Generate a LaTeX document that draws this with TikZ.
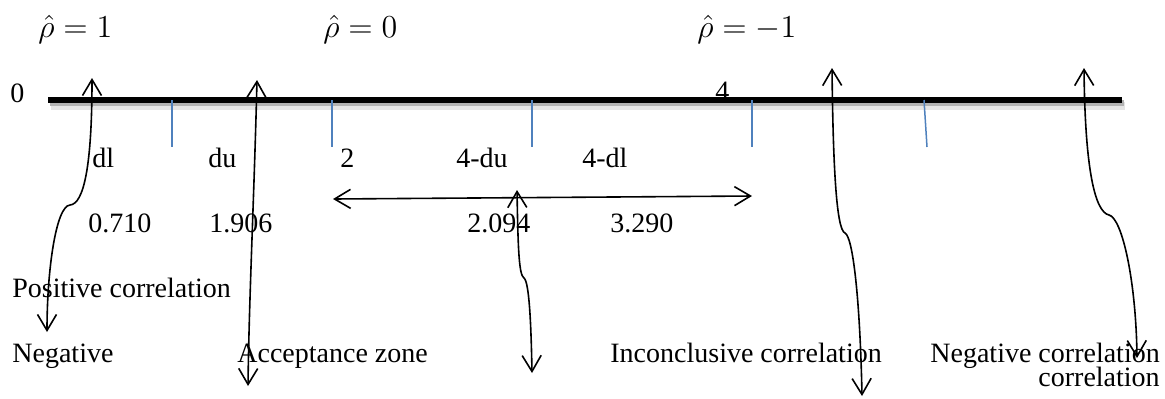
\RequirePackage{fix-cm}
\documentclass[tikz,border=0pt]{standalone}
\usepackage[dvipsnames]{xcolor}
\usepackage{amsmath,amssymb}
\usepackage{fontspec}
\setmainfont{Liberation Serif}
\usepackage{tikz}
\usetikzlibrary{arrows.meta}
\definecolor{tickblue}{RGB}{79,129,189}

\begin{document}
\begin{tikzpicture}[x=0.5pt, y=-0.5pt, font=\fontsize{14}{17}\selectfont,
    lbl/.style = {anchor=base west, inner sep=0pt},
    rho/.style = {lbl, font=\fontsize{16}{19}\selectfont},
    tick/.style = {tickblue, line width=0.75pt},
    bar/.style = {line width=3pt},
    curly/.style = {<->, >={Straight Barb[length=8pt,width=9.5pt]}, line width=0.8pt}]

    \useasboundingbox (0,0) rectangle (1165,398);

    \node[rho] (r1) at (38,37) {$\hat{\rho}=1$};
    \node[rho] (r0) at (323,37) {$\hat{\rho}=0$};
    \node[rho] (rm) at (697,37) {$\hat{\rho}=-1$};
    \node[lbl] (zero) at (10,102) {0};
    \node[lbl] (four) at (715,100) {4};

    \coordinate (barL) at (48,100);
    \coordinate (barR) at (1122,100);
    \draw[bar, black!10, line width=4pt] ([shift={(3,6)}]barL) -- ([shift={(3,6)}]barR);
    \draw[bar, black!30] ([shift={(2,3)}]barL) -- ([shift={(2,3)}]barR);
    \draw[bar] (barL) -- (barR);

    \draw[tick] (172,100) -- (172,147);
    \draw[tick] (332,100) -- (332,147);
    \draw[tick] (532,100) -- (532,147);
    \draw[tick] (752,100) -- (752,147);
    \draw[tick] (924,100) -- (927,147);

    \node[lbl] (dl) at (92,167) {dl};
    \node[lbl] (du) at (208,167) {du};
    \node[lbl] (two) at (340,167) {2};
    \node[lbl] (fdu) at (456,167) {4-du};
    \node[lbl] (fdl) at (582,167) {4-dl};

    \node[lbl] (vdl) at (88,232) {0.710};
    \node[lbl] (vdu) at (209,232) {1.906};
    \node[lbl] (vfdu) at (467,232) {2.094};
    \node[lbl] (vfdl) at (610,232) {3.290};

    \node[lbl] (pos) at (12,297) {Positive correlation};
    \node[lbl] (neg) at (12,362) {Negative};
    \node[lbl] (acc) at (237,362) {Acceptance zone};
    \node[lbl] (inc) at (610,362) {Inconclusive correlation};
    \node[lbl] (ncor) at (930,362) {Negative correlation};
    \node[lbl] (ncor2) at (1038,386) {correlation};

    \coordinate (h1) at (333,199);
    \coordinate (h2) at (752,196);
    \draw[curly] (h1) -- (h2);

    \coordinate (t1) at (92,78);
    \coordinate (k1) at (70,205);
    \coordinate (b1) at (47,332);
    \draw[curly] (t1) .. controls (92,165) and (84,204) .. (k1) .. controls (56,206) and (47,270) .. (b1);

    \coordinate (t2) at (257,80);
    \coordinate (b2) at (248,386);
    \draw[curly] (t2) .. controls (254,200) and (249,300) .. (b2);

    \coordinate (t3) at (517,190);
    \coordinate (k3) at (524,278);
    \coordinate (b3) at (532,373);
    \draw[curly] (t3) .. controls (518,250) and (519,275) .. (k3) .. controls (529,282) and (531,320) .. (b3);

    \coordinate (t4) at (832,68);
    \coordinate (k4) at (845,233);
    \coordinate (b4) at (862,396);
    \draw[curly] (t4) .. controls (833,160) and (836,230) .. (k4) .. controls (853,237) and (860,300) .. (b4);

    \coordinate (t5) at (1084,68);
    \coordinate (k5) at (1109,215);
    \coordinate (b5) at (1137,358);
    \draw[curly] (t5) .. controls (1085,170) and (1095,212) .. (k5) .. controls (1122,218) and (1136,280) .. (b5);

\end{tikzpicture}
\end{document}
